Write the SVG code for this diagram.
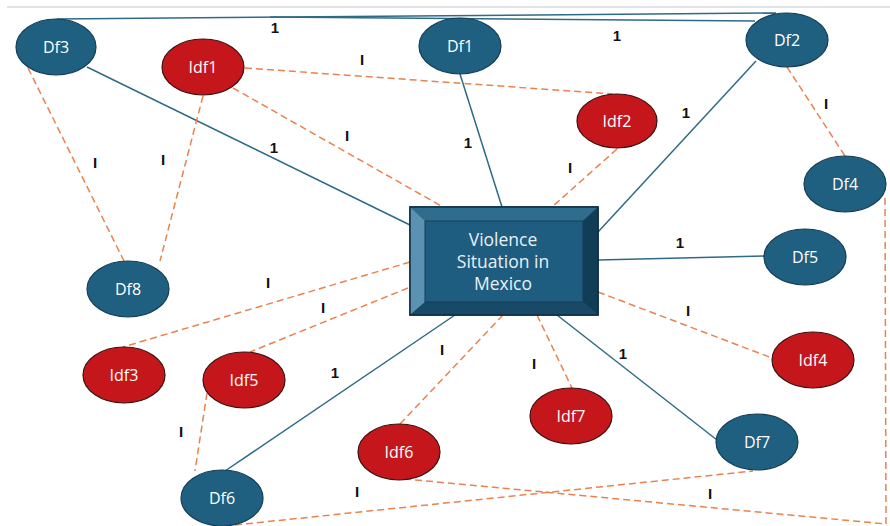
<svg xmlns="http://www.w3.org/2000/svg" width="890" height="526" viewBox="0 0 890 526">
<style>
  .bg{fill:#ffffff}
  .df ellipse{fill:#1f5f80;stroke:#143e57;stroke-width:1.2}
  .idf ellipse{fill:#c5171b;stroke:#3a1212;stroke-width:1.2}
  .nt{font-family:"Open Sans","Liberation Sans",Arial,sans-serif;font-size:16px;font-weight:500;fill:#ffffff;text-anchor:middle}
  .solid{stroke:#2f6a86;stroke-width:1.5;fill:none}
  .dash{stroke:#e9824f;stroke-width:1.5;fill:none;stroke-dasharray:7 4}
  .lbl{font-family:"Liberation Sans",Arial,sans-serif;font-size:15px;font-weight:bold;fill:#111111;text-anchor:middle}
  .bt{font-family:"Open Sans","Liberation Sans",Arial,sans-serif;font-size:17.5px;font-weight:500;fill:#e8f0f5;text-anchor:middle}
</style>
<rect class="bg" x="0" y="0" width="890" height="526"/>
<line x1="7" y1="7" x2="890" y2="7" stroke="#e2e2e6" stroke-width="2"/>
<g id="connectors">
  <line class="solid" x1="57" y1="19" x2="776" y2="13"/>
  <line class="solid" x1="270" y1="17" x2="755" y2="21"/>
  <line class="solid" x1="87" y1="67" x2="410" y2="225"/>
  <line class="solid" x1="460" y1="74" x2="502" y2="207"/>
  <line class="solid" x1="756" y1="61" x2="598" y2="232"/>
  <line class="solid" x1="598" y1="260" x2="765" y2="256"/>
  <line class="solid" x1="455" y1="315" x2="225" y2="471"/>
  <line class="solid" x1="557" y1="315" x2="717" y2="440"/>
  <line class="dash" x1="28" y1="68" x2="124" y2="261"/>
  <line class="dash" x1="203" y1="96" x2="160" y2="261"/>
  <line class="dash" x1="245" y1="68" x2="613" y2="94"/>
  <line class="dash" x1="233" y1="88" x2="443" y2="207"/>
  <line class="dash" x1="617" y1="149" x2="552" y2="207"/>
  <line class="dash" x1="787" y1="67" x2="845" y2="156"/>
  <polyline class="dash" points="885,198 886,524 405,479"/>
  <line class="dash" x1="410" y1="262" x2="123" y2="347"/>
  <line class="dash" x1="408" y1="288" x2="250" y2="352"/>
  <line class="dash" x1="207" y1="393" x2="195" y2="471"/>
  <line class="dash" x1="503" y1="315" x2="400" y2="424"/>
  <line class="dash" x1="537" y1="315" x2="572" y2="388"/>
  <line class="dash" x1="598" y1="292" x2="772" y2="358"/>
  <line class="dash" x1="235" y1="525" x2="753" y2="471"/>
  <text class="lbl" x="275" y="33">1</text>
  <text class="lbl" x="617" y="41">1</text>
  <text class="lbl" x="362" y="65">I</text>
  <text class="lbl" x="347" y="141">I</text>
  <text class="lbl" x="274" y="153">1</text>
  <text class="lbl" x="468" y="148">1</text>
  <text class="lbl" x="686" y="118">1</text>
  <text class="lbl" x="826" y="109">I</text>
  <text class="lbl" x="95" y="168">I</text>
  <text class="lbl" x="163" y="165">I</text>
  <text class="lbl" x="570" y="173">I</text>
  <text class="lbl" x="680" y="248">1</text>
  <text class="lbl" x="268" y="288">I</text>
  <text class="lbl" x="323" y="313">I</text>
  <text class="lbl" x="688" y="316">I</text>
  <text class="lbl" x="442" y="355">I</text>
  <text class="lbl" x="534" y="369">I</text>
  <text class="lbl" x="623" y="359">1</text>
  <text class="lbl" x="335" y="378">1</text>
  <text class="lbl" x="181" y="437">I</text>
  <text class="lbl" x="357" y="497">I</text>
  <text class="lbl" x="710" y="499">I</text>
</g>
<g id="center">
  <rect x="410" y="207" width="188" height="108" fill="#1f5d80" stroke="#0d2f45" stroke-width="1.5"/>
  <polygon points="410,207 598,207 583,221 425,221" fill="#2f6c8e"/>
  <polygon points="410,207 425,221 425,302 410,315" fill="#5b91b1"/>
  <polygon points="598,207 598,315 583,302 583,221" fill="#123d57"/>
  <polygon points="410,315 598,315 583,302 425,302" fill="#184a67"/>
  <rect x="425" y="221" width="158" height="81" fill="#1f5d80" stroke="#153f58" stroke-width="1"/>
  <rect x="410" y="207" width="188" height="108" fill="none" stroke="#0d2f45" stroke-width="1.5"/>
  <text class="bt" x="503" y="246">Violence</text>
  <text class="bt" x="503" y="268">Situation in</text>
  <text class="bt" x="503" y="290">Mexico</text>
</g>
<g id="Df3" class="df"><ellipse cx="56" cy="47" rx="40" ry="28"/><text class="nt" x="56" y="53">Df3</text></g>
<g id="Df1" class="df"><ellipse cx="460" cy="46" rx="41" ry="28"/><text class="nt" x="460" y="52">Df1</text></g>
<g id="Df2" class="df"><ellipse cx="787" cy="40" rx="41" ry="27"/><text class="nt" x="787" y="46">Df2</text></g>
<g id="Df4" class="df"><ellipse cx="845" cy="184" rx="41" ry="28"/><text class="nt" x="845" y="190">Df4</text></g>
<g id="Df5" class="df"><ellipse cx="805" cy="257" rx="41" ry="28"/><text class="nt" x="805" y="263">Df5</text></g>
<g id="Df8" class="df"><ellipse cx="128" cy="289" rx="41" ry="28"/><text class="nt" x="128" y="295">Df8</text></g>
<g id="Df6" class="df"><ellipse cx="222" cy="498" rx="41" ry="28"/><text class="nt" x="222" y="504">Df6</text></g>
<g id="Df7" class="df"><ellipse cx="757" cy="442" rx="41" ry="28"/><text class="nt" x="757" y="448">Df7</text></g>
<g id="Idf1" class="idf"><ellipse cx="203" cy="67" rx="41" ry="28"/><text class="nt" x="203" y="73">Idf1</text></g>
<g id="Idf2" class="idf"><ellipse cx="617" cy="121" rx="40" ry="27"/><text class="nt" x="617" y="127">Idf2</text></g>
<g id="Idf3" class="idf"><ellipse cx="124" cy="375" rx="41" ry="28"/><text class="nt" x="124" y="381">Idf3</text></g>
<g id="Idf5" class="idf"><ellipse cx="244" cy="380" rx="41" ry="28"/><text class="nt" x="244" y="386">Idf5</text></g>
<g id="Idf6" class="idf"><ellipse cx="399" cy="452" rx="41" ry="28"/><text class="nt" x="399" y="458">Idf6</text></g>
<g id="Idf7" class="idf"><ellipse cx="571" cy="416" rx="41" ry="28"/><text class="nt" x="571" y="422">Idf7</text></g>
<g id="Idf4" class="idf"><ellipse cx="813" cy="360" rx="41" ry="28"/><text class="nt" x="813" y="366">Idf4</text></g>
</svg>
